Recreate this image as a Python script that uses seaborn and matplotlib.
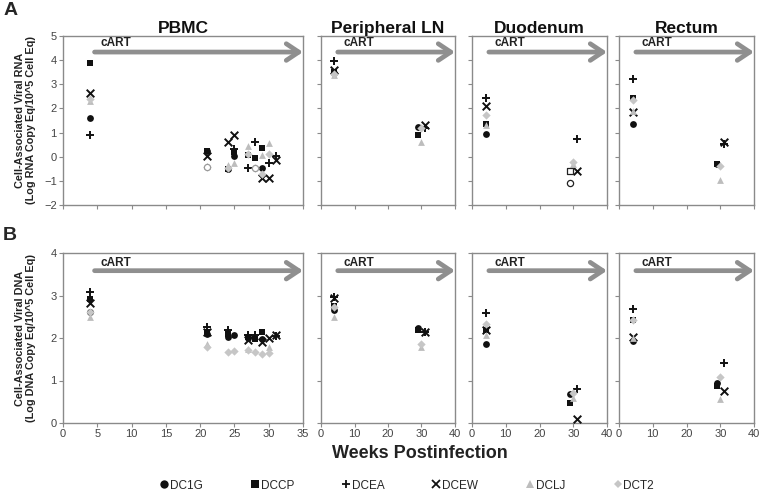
import numpy as np
import pandas as pd
import matplotlib
matplotlib.use("Agg")
import matplotlib.pyplot as plt
from matplotlib.lines import Line2D
import seaborn as sns

# animals and their symbols
animals = ["DC1G", "DCCP", "DCEA", "DCEW", "DCLJ", "DCT2"]
markers = ["o", "s", "+", "x", "^", "D"]
colors = ["#111111", "#111111", "#111111", "#111111", "#bdbdbd", "#c6c6c6"]

tissues = ["PBMC", "Peripheral LN", "Duodenum", "Rectum"]

# cell-associated viral RNA, {animal: (weeks, log values)}
pbmc_rna = {
    "DC1G": ([4, 21, 24, 25, 29], [1.6, 0.22, -0.5, 0.05, -0.47]),
    "DCCP": ([4, 21, 24, 25, 27, 28, 29], [3.87, 0.25, -0.52, 0.2, 0.07, -0.05, 0.36]),
    "DCEA": ([4, 25, 27, 28, 30, 31], [0.9, 0.3, -0.47, 0.6, -0.26, 0.03]),
    "DCEW": ([4, 21, 24, 25, 29, 30, 31], [2.62, 0.05, 0.6, 0.88, -0.88, -0.88, -0.13]),
    "DCLJ": ([4, 21, 24, 25, 27, 29, 30], [2.3, -0.4, -0.35, -0.26, 0.45, 0.07, 0.57]),
    "DCT2": ([4, 21, 24, 27, 28, 29, 30], [2.38, -0.43, -0.45, 0.1, -0.47, -0.72, 0.1]),
}
ln_rna = {
    "DC1G": ([4, 29], [3.45, 1.24]),
    "DCCP": ([4, 29], [3.5, 0.9]),
    "DCEA": ([4, 31], [3.96, 1.2]),
    "DCEW": ([4, 31], [3.6, 1.3]),
    "DCLJ": ([4, 30], [3.38, 0.62]),
    "DCT2": ([4, 30], [3.42, 1.2]),
}
duo_rna = {
    "DC1G": ([4], [0.95]),
    "DCCP": ([4], [1.35]),
    "DCEA": ([4, 31], [2.42, 0.74]),
    "DCEW": ([4, 31], [2.1, -0.58]),
    "DCLJ": ([4, 30], [1.3, -0.3]),
    "DCT2": ([4, 30], [1.73, -0.2]),
}
rect_rna = {
    "DC1G": ([4, 29], [1.35, -0.3]),
    "DCCP": ([4, 29], [2.42, -0.32]),
    "DCEA": ([4, 31], [3.2, 0.52]),
    "DCEW": ([4, 31], [1.86, 0.62]),
    "DCLJ": ([4, 30], [1.9, -0.95]),
    "DCT2": ([4, 30], [2.35, -0.38]),
}

# cell-associated viral DNA
pbmc_dna = {
    "DC1G": ([4, 21, 24, 25, 27, 29], [2.62, 2.1, 2.02, 2.07, 2.0, 1.98]),
    "DCCP": ([4, 21, 24, 27, 28, 29], [2.91, 2.15, 2.1, 2.03, 1.98, 2.15]),
    "DCEA": ([4, 21, 24, 27, 28, 31], [3.08, 2.25, 2.18, 2.08, 2.08, 2.05]),
    "DCEW": ([4, 21, 27, 29, 30, 31], [2.83, 2.15, 1.95, 1.9, 2.0, 2.08]),
    "DCLJ": ([4, 21, 27, 30], [2.5, 1.85, 1.75, 1.78]),
    "DCT2": ([4, 21, 24, 25, 27, 28, 29, 30], [2.62, 1.8, 1.68, 1.7, 1.72, 1.68, 1.63, 1.65]),
}
ln_dna = {
    "DC1G": ([4, 29], [2.66, 2.24]),
    "DCCP": ([4, 29], [2.75, 2.19]),
    "DCEA": ([4, 31], [2.97, 2.15]),
    "DCEW": ([4, 31], [2.95, 2.13]),
    "DCLJ": ([4, 30], [2.49, 1.78]),
    "DCT2": ([4, 30], [2.72, 1.87]),
}
duo_dna = {
    "DC1G": ([4, 29], [1.87, 0.69]),
    "DCCP": ([4, 29], [2.2, 0.48]),
    "DCEA": ([4, 31], [2.58, 0.79]),
    "DCEW": ([4, 31], [2.2, 0.1]),
    "DCLJ": ([4, 30], [2.07, 0.6]),
    "DCT2": ([4, 30], [2.32, 0.7]),
}
rect_dna = {
    "DC1G": ([4, 29], [1.94, 0.93]),
    "DCCP": ([4, 29], [2.42, 0.87]),
    "DCEA": ([4, 31], [2.68, 1.42]),
    "DCEW": ([4, 31], [2.03, 0.75]),
    "DCLJ": ([4, 30], [2.0, 0.56]),
    "DCT2": ([4, 30], [2.42, 1.09]),
}

# open symbols (below detection) in the RNA row: tissue, animal, week, value
open_tissue = ["PBMC", "PBMC", "Duodenum", "Duodenum"]
open_animal = ["DC1G", "DC1G", "DCCP", "DC1G"]
open_week = [21, 28, 29, 29]
open_value = [-0.43, -0.47, -0.6, -1.1]
open_edge = ["#9a9a9a", "#9a9a9a", "#222222", "#222222"]

rna_panels = [pbmc_rna, ln_rna, duo_rna, rect_rna]
dna_panels = [pbmc_dna, ln_dna, duo_dna, rect_dna]


def to_frame(panel):
    rows = []
    for animal, (wk, val) in panel.items():
        for w, v in zip(wk, val):
            rows.append((animal, w, v))
    return pd.DataFrame(rows, columns=["animal", "week", "value"])


sns.set_theme(style="white")
plt.rcParams["font.family"] = ["Liberation Sans", "DejaVu Sans"]

fig = plt.figure(figsize=(7.6, 4.92), dpi=100)

lefts = [63, 321, 472, 619]
widths = [240, 134, 135, 135]
frame_col = "#8a8a8a"
arrow_col = "#8f8f8f"


def style_axes(ax, xmax, xstep, show_xlabels, show_ylabels):
    ax.set_xlim(0, xmax)
    ax.set_xticks(np.arange(0, xmax + 1, xstep))
    for sp in ax.spines.values():
        sp.set_color(frame_col)
        sp.set_linewidth(1.0)
    ax.tick_params(axis="both", direction="out", length=3, width=0.8,
                   color=frame_col, labelsize=8, labelcolor="#444444", pad=1.5,
                   bottom=True, left=True)
    if not show_xlabels:
        ax.set_xticklabels([])
    if not show_ylabels:
        ax.set_yticklabels([])
    ax.set_xlabel("")
    ax.set_ylabel("")
    ax.grid(False)


def draw_points(ax, panel):
    df = to_frame(panel)
    for animal, m, c in zip(animals, markers, colors):
        sub = df[df.animal == animal]
        if len(sub) == 0:
            continue
        if m in ["+", "x"]:
            sns.scatterplot(data=sub, x="week", y="value", marker=m, color=c,
                            s=30, linewidth=1.4, ax=ax, legend=False, zorder=3)
        else:
            size = 18 if m == "D" else 24
            sns.scatterplot(data=sub, x="week", y="value", marker=m, color=c,
                            s=size, linewidth=0, ax=ax, legend=False, zorder=3)


def draw_cart(ax, xstart, text_x, arrow_y, text_y):
    xmax = ax.get_xlim()[1]
    tr = ax.get_xaxis_transform()
    ax.annotate("", xy=(xmax, arrow_y), xytext=(xstart, arrow_y),
                xycoords=tr, textcoords=tr,
                arrowprops=dict(arrowstyle="->,head_length=0.75,head_width=0.5",
                                lw=3.4, color=arrow_col, shrinkA=0, shrinkB=0),
                annotation_clip=False)
    ax.text(text_x, text_y, "cART", transform=tr, fontsize=8.5,
            fontweight="bold", color="#222222", va="center", ha="left")


rows = [(36, 205, rna_panels, (-2, 5), 0.905, 0.96),
        (253, 423, dna_panels, (0, 4), 0.896, 0.943)]

for r, (top, bot, panels, ylim, ay, ty) in enumerate(rows):
    for i, tissue in enumerate(tissues):
        ax = fig.add_axes([lefts[i] / 760, 1 - bot / 492,
                           widths[i] / 760, (bot - top) / 492])
        draw_points(ax, panels[i])
        if r == 0:
            for t, a, w, v, ec in zip(open_tissue, open_animal, open_week,
                                      open_value, open_edge):
                if t == tissue:
                    m = markers[animals.index(a)]
                    ax.scatter([w], [v], marker=m, s=20, facecolors="white",
                               edgecolors=ec, linewidths=0.9, zorder=4)
        ax.set_ylim(*ylim)
        ax.set_yticks(np.arange(ylim[0], ylim[1] + 1, 1))
        if i == 0:
            style_axes(ax, 35, 5, r == 1, True)
            draw_cart(ax, 4.6, 5.4, ay, ty)
        else:
            style_axes(ax, 40, 10, r == 1, False)
            draw_cart(ax, 5.0, 6.6, ay, ty)
        if r == 0:
            ax.set_title(tissue, fontsize=12.5, fontweight="bold", pad=2,
                         color="#111111")

# panel letters
fig.text(0.004, 0.995, "A", fontsize=14, fontweight="bold", va="top", ha="left")
fig.text(0.004, 0.538, "B", fontsize=14, fontweight="bold", va="top", ha="left")

# y labels
fig.text(0.034, 1 - 120 / 492,
         "Cell-Associated Viral RNA\n(Log RNA Copy Eq/10^5 Cell Eq)",
         rotation=90, ha="center", va="center", fontsize=7.8,
         fontweight="bold", linespacing=1.15, color="#222222")
fig.text(0.034, 1 - 338 / 492,
         "Cell-Associated Viral DNA\n(Log DNA Copy Eq/10^5 Cell Eq)",
         rotation=90, ha="center", va="center", fontsize=7.8,
         fontweight="bold", linespacing=1.15, color="#222222")

# x label
fig.text(420 / 760, 1 - 453 / 492, "Weeks Postinfection", ha="center",
         va="center", fontsize=13, fontweight="bold", color="#222222")

# legend
handles = []
for animal, m, c in zip(animals, markers, colors):
    if m in ["+", "x"]:
        h = Line2D([], [], marker=m, linestyle="", color=c, markersize=6,
                   markeredgewidth=1.3)
    else:
        h = Line2D([], [], marker=m, linestyle="", color=c,
                   markersize=4.5 if m == "D" else 6, markeredgewidth=0)
    handles.append(h)
fig.legend(handles, animals, loc="center", bbox_to_anchor=(0.535, 0.013),
           ncol=6, frameon=False, fontsize=8.5, handlelength=0.8,
           handletextpad=0.1, columnspacing=4.0)

fig.savefig("out.png", dpi=100)
